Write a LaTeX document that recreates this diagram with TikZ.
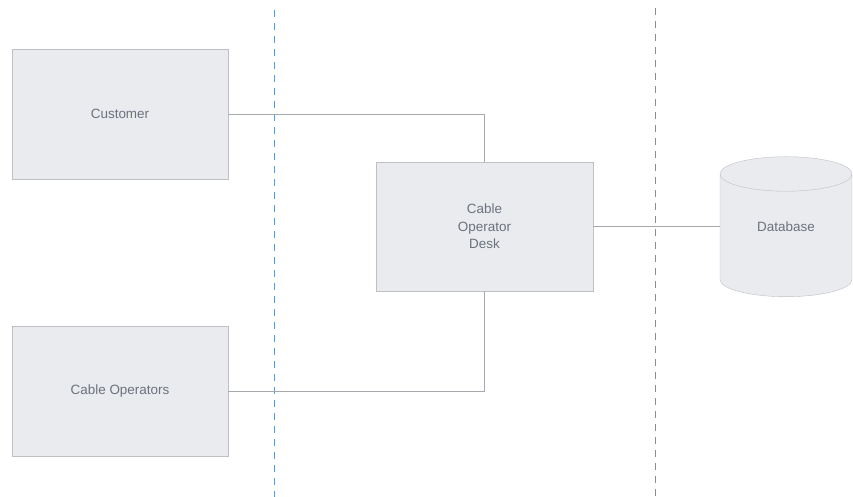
\documentclass[tikz,border=0pt]{standalone}
\usepackage{fontspec}
\setmainfont{Liberation Sans}
\usetikzlibrary{positioning,shapes.geometric}
\definecolor{dfbox}{RGB}{233,235,239}
\definecolor{dfedge}{RGB}{190,192,196}
\definecolor{dftext}{RGB}{108,114,124}
\definecolor{dfwire}{RGB}{165,168,172}
\definecolor{dfzone}{RGB}{104,150,196}
\tikzstyle{entity} = [draw=dfedge, fill=dfbox, text=dftext, minimum width=216bp, minimum height=130bp, inner sep=0pt, font=\fontsize{13.5}{17.5}\selectfont, align=center]
\tikzstyle{store} = [entity, cylinder, shape border rotate=90, aspect=0.6, minimum width=132bp, minimum height=140bp]
\tikzstyle{wire} = [draw=dfwire, line width=0.8bp]
\tikzstyle{boundary} = [draw=dfzone, line width=1bp, dash pattern=on 7bp off 6bp]

\begin{document}
\begin{tikzpicture}[x=1bp, y=-1bp]
\useasboundingbox (0,0) rectangle (853,497);

% Trust boundaries
\coordinate (b1top) at (274.5,10);
\coordinate (b1bot) at (274.5,497);
\coordinate (b2top) at (655.5,8);
\coordinate (b2bot) at (655.5,497);
\draw[boundary] (b1top) -- (b1bot);
\draw[boundary] (b2top) -- (b2bot);

% External entities
\node[entity] (customer) at (120,114) {Customer};
\node[entity] (operators) at (120,391) {Cable Operators};

% Process
\node[entity, minimum width=217bp, minimum height=129bp] (desk) at (484.5,226.5) {Cable\\Operator\\Desk};

% Data store
\node[store, anchor=north] (db) at (786,156.5) {\raisebox{4pt}[0pt][0pt]{Database}};

% Flows
\draw[wire] (customer.east) -| (desk.north);
\draw[wire] (operators.east) -| (desk.south);
\draw[wire] (desk.east) -- (desk.east -| db.west);
\end{tikzpicture}
\end{document}
